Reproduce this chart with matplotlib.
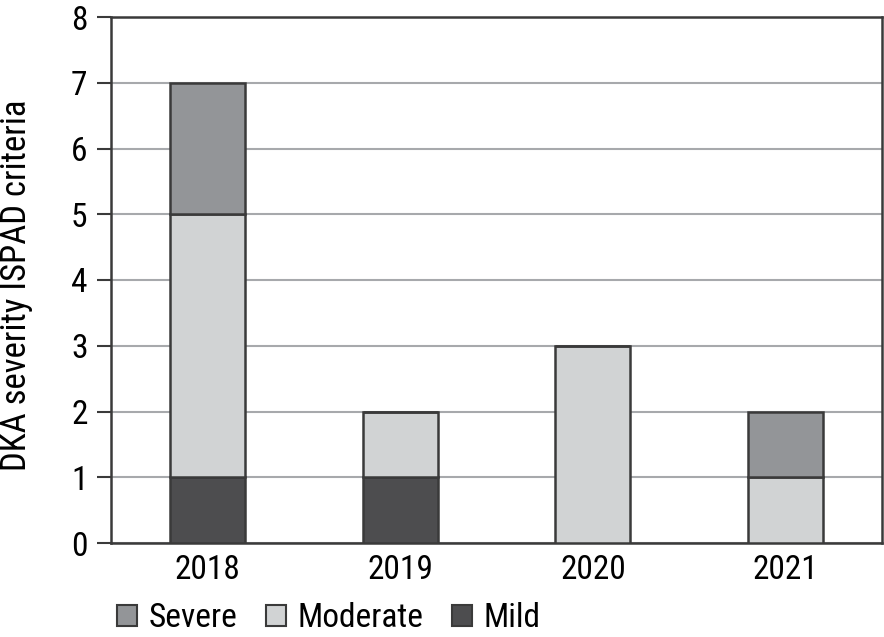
import matplotlib
matplotlib.use("Agg")
import matplotlib.pyplot as plt
import numpy as np
from matplotlib.patches import Patch

# data
years    = ["2018", "2019", "2020", "2021"]
mild     = [1, 1, 0, 0]
moderate = [4, 1, 3, 1]
severe   = [2, 0, 0, 1]

C_SEVERE   = "#939598"
C_MODERATE = "#d1d3d4"
C_MILD     = "#4d4d4f"
EDGE       = "#3a3a3a"

plt.rcParams["font.family"] = ["Roboto Condensed", "Liberation Sans", "DejaVu Sans"]

fig = plt.figure(figsize=(8.84, 6.37), dpi=100)
ax = fig.add_axes([111 / 884, 1 - 543 / 637, (882 - 111) / 884, (543 - 17) / 637])

x = np.arange(len(years))
w = 0.39
mild_a = np.array(mild)
mod_a = np.array(moderate)
sev_a = np.array(severe)

ax.bar(x, mild_a, w, color=C_MILD, edgecolor=EDGE, linewidth=1.8, zorder=3)
ax.bar(x, mod_a, w, bottom=mild_a, color=C_MODERATE, edgecolor=EDGE, linewidth=1.8, zorder=3)
ax.bar(x, sev_a, w, bottom=mild_a + mod_a, color=C_SEVERE, edgecolor=EDGE, linewidth=1.8, zorder=3)

ax.set_xlim(-0.5, 3.5)
ax.set_ylim(0, 8)
ax.set_yticks(range(0, 9))
ax.set_xticks(x)
ax.set_xticklabels(years)
ax.yaxis.grid(True, color="#a7a9ac", linewidth=1.5, zorder=0)
ax.set_axisbelow(True)

for s in ax.spines.values():
    s.set_color(EDGE)
    s.set_linewidth(1.8)

ax.tick_params(axis="y", length=10, width=1.5, color=EDGE, labelsize=24, pad=7)
ax.tick_params(axis="x", length=0, labelsize=24, pad=8)
ax.set_ylabel("DKA severity ISPAD criteria", fontsize=25)
ax.yaxis.set_label_coords(-0.101, 0.49)

handles = [
    Patch(facecolor=C_SEVERE, edgecolor=EDGE, linewidth=1.5, label="Severe"),
    Patch(facecolor=C_MODERATE, edgecolor=EDGE, linewidth=1.5, label="Moderate"),
    Patch(facecolor=C_MILD, edgecolor=EDGE, linewidth=1.5, label="Mild"),
]
fig.legend(handles=handles, loc="lower left", bbox_to_anchor=(87 / 884, -0.043),
           ncol=3, frameon=False, fontsize=24, handlelength=0.6, handleheight=0.6,
           handletextpad=0.35, columnspacing=0.85)

fig.savefig("out.png", dpi=100)
